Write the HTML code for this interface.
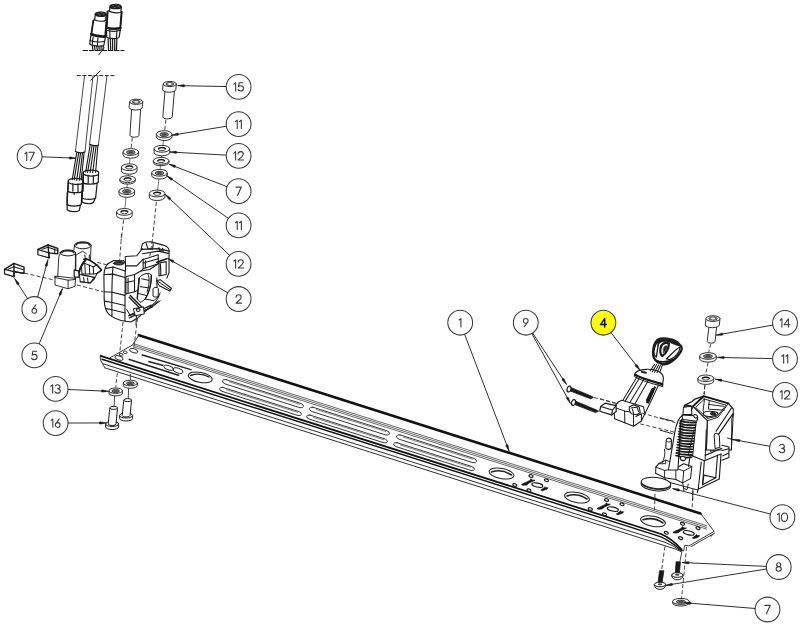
<!DOCTYPE html><html><head><meta charset="utf-8"><style>
html,body{margin:0;padding:0;background:#fff;}
svg{display:block;font-family:"Liberation Sans",sans-serif;}
</style></head><body>
<svg width="800" height="626" viewBox="0 0 800 626">
<circle cx="238.6" cy="86.8" r="12.4" fill="#fff" stroke="#3a3a3a" stroke-width="1.05"/>
<path transform="translate(233.55,82.60)" d="M0.3,1.5 L2.1,0.1 L2.1,8.4" fill="none" stroke="#3a3a3a" stroke-width="1.1" stroke-linecap="round" stroke-linejoin="round"/>
<path transform="translate(237.65,82.60)" d="M5.3,0.1 L1.5,0.1 L0.9,3.9 C1.5,3.4 2.3,3.2 3.0,3.2 C4.6,3.2 5.8,4.3 5.8,5.8 C5.8,7.4 4.6,8.4 3.0,8.4 C1.9,8.4 0.9,7.9 0.3,7.1" fill="none" stroke="#3a3a3a" stroke-width="1.1" stroke-linecap="round" stroke-linejoin="round"/>
<circle cx="238.6" cy="124.2" r="12.4" fill="#fff" stroke="#3a3a3a" stroke-width="1.05"/>
<path transform="translate(235.15,120.00)" d="M0.3,1.5 L2.1,0.1 L2.1,8.4" fill="none" stroke="#3a3a3a" stroke-width="1.1" stroke-linecap="round" stroke-linejoin="round"/>
<path transform="translate(239.25,120.00)" d="M0.3,1.5 L2.1,0.1 L2.1,8.4" fill="none" stroke="#3a3a3a" stroke-width="1.1" stroke-linecap="round" stroke-linejoin="round"/>
<circle cx="238.6" cy="155.8" r="12.4" fill="#fff" stroke="#3a3a3a" stroke-width="1.05"/>
<path transform="translate(233.55,151.60)" d="M0.3,1.5 L2.1,0.1 L2.1,8.4" fill="none" stroke="#3a3a3a" stroke-width="1.1" stroke-linecap="round" stroke-linejoin="round"/>
<path transform="translate(237.65,151.60)" d="M0.5,2.4 C0.5,0.9 1.7,0 3.1,0 C4.6,0 5.6,1.0 5.6,2.4 C5.6,3.5 4.9,4.3 4.0,5.2 L0.4,8.35 L5.9,8.35" fill="none" stroke="#3a3a3a" stroke-width="1.1" stroke-linecap="round" stroke-linejoin="round"/>
<circle cx="238.6" cy="191.2" r="12.4" fill="#fff" stroke="#3a3a3a" stroke-width="1.05"/>
<path transform="translate(235.70,187.00)" d="M0.2,0.1 L5.6,0.1 L1.8,8.4" fill="none" stroke="#3a3a3a" stroke-width="1.1" stroke-linecap="round" stroke-linejoin="round"/>
<circle cx="238.6" cy="225.4" r="12.4" fill="#fff" stroke="#3a3a3a" stroke-width="1.05"/>
<path transform="translate(235.15,221.20)" d="M0.3,1.5 L2.1,0.1 L2.1,8.4" fill="none" stroke="#3a3a3a" stroke-width="1.1" stroke-linecap="round" stroke-linejoin="round"/>
<path transform="translate(239.25,221.20)" d="M0.3,1.5 L2.1,0.1 L2.1,8.4" fill="none" stroke="#3a3a3a" stroke-width="1.1" stroke-linecap="round" stroke-linejoin="round"/>
<circle cx="238.6" cy="263.9" r="12.4" fill="#fff" stroke="#3a3a3a" stroke-width="1.05"/>
<path transform="translate(233.55,259.70)" d="M0.3,1.5 L2.1,0.1 L2.1,8.4" fill="none" stroke="#3a3a3a" stroke-width="1.1" stroke-linecap="round" stroke-linejoin="round"/>
<path transform="translate(237.65,259.70)" d="M0.5,2.4 C0.5,0.9 1.7,0 3.1,0 C4.6,0 5.6,1.0 5.6,2.4 C5.6,3.5 4.9,4.3 4.0,5.2 L0.4,8.35 L5.9,8.35" fill="none" stroke="#3a3a3a" stroke-width="1.1" stroke-linecap="round" stroke-linejoin="round"/>
<circle cx="238.6" cy="299" r="12.4" fill="#fff" stroke="#3a3a3a" stroke-width="1.05"/>
<path transform="translate(235.60,294.80)" d="M0.5,2.4 C0.5,0.9 1.7,0 3.1,0 C4.6,0 5.6,1.0 5.6,2.4 C5.6,3.5 4.9,4.3 4.0,5.2 L0.4,8.35 L5.9,8.35" fill="none" stroke="#3a3a3a" stroke-width="1.1" stroke-linecap="round" stroke-linejoin="round"/>
<circle cx="785" cy="322.9" r="12.4" fill="#fff" stroke="#3a3a3a" stroke-width="1.05"/>
<path transform="translate(779.85,318.70)" d="M0.3,1.5 L2.1,0.1 L2.1,8.4" fill="none" stroke="#3a3a3a" stroke-width="1.1" stroke-linecap="round" stroke-linejoin="round"/>
<path transform="translate(783.95,318.70)" d="M4.4,8.4 L4.4,0.1 L0.2,6.1 L6.1,6.1" fill="none" stroke="#3a3a3a" stroke-width="1.1" stroke-linecap="round" stroke-linejoin="round"/>
<circle cx="785" cy="358.9" r="12.4" fill="#fff" stroke="#3a3a3a" stroke-width="1.05"/>
<path transform="translate(781.55,354.70)" d="M0.3,1.5 L2.1,0.1 L2.1,8.4" fill="none" stroke="#3a3a3a" stroke-width="1.1" stroke-linecap="round" stroke-linejoin="round"/>
<path transform="translate(785.65,354.70)" d="M0.3,1.5 L2.1,0.1 L2.1,8.4" fill="none" stroke="#3a3a3a" stroke-width="1.1" stroke-linecap="round" stroke-linejoin="round"/>
<circle cx="785" cy="394.8" r="12.4" fill="#fff" stroke="#3a3a3a" stroke-width="1.05"/>
<path transform="translate(779.95,390.60)" d="M0.3,1.5 L2.1,0.1 L2.1,8.4" fill="none" stroke="#3a3a3a" stroke-width="1.1" stroke-linecap="round" stroke-linejoin="round"/>
<path transform="translate(784.05,390.60)" d="M0.5,2.4 C0.5,0.9 1.7,0 3.1,0 C4.6,0 5.6,1.0 5.6,2.4 C5.6,3.5 4.9,4.3 4.0,5.2 L0.4,8.35 L5.9,8.35" fill="none" stroke="#3a3a3a" stroke-width="1.1" stroke-linecap="round" stroke-linejoin="round"/>
<circle cx="782" cy="448.5" r="12.4" fill="#fff" stroke="#3a3a3a" stroke-width="1.05"/>
<path transform="translate(779.00,444.30)" d="M0.7,1.1 C1.2,0.4 2.1,0 3.0,0 C4.4,0 5.3,0.9 5.3,2.1 C5.3,3.3 4.3,4.1 2.8,4.1 C4.5,4.1 5.7,5.0 5.7,6.2 C5.7,7.6 4.6,8.4 3.0,8.4 C1.9,8.4 0.9,7.9 0.3,7.1" fill="none" stroke="#3a3a3a" stroke-width="1.1" stroke-linecap="round" stroke-linejoin="round"/>
<circle cx="782.4" cy="517.2" r="12.4" fill="#fff" stroke="#3a3a3a" stroke-width="1.05"/>
<path transform="translate(777.15,513.00)" d="M0.3,1.5 L2.1,0.1 L2.1,8.4" fill="none" stroke="#3a3a3a" stroke-width="1.1" stroke-linecap="round" stroke-linejoin="round"/>
<path transform="translate(781.25,513.00)" d="M3.2,0 C5.0,0 6.3,1.9 6.3,4.2 C6.3,6.5 5.0,8.4 3.2,8.4 C1.4,8.4 0.1,6.5 0.1,4.2 C0.1,1.9 1.4,0 3.2,0 Z" fill="none" stroke="#3a3a3a" stroke-width="1.1" stroke-linecap="round" stroke-linejoin="round"/>
<circle cx="778.7" cy="567" r="12.4" fill="#fff" stroke="#3a3a3a" stroke-width="1.05"/>
<path transform="translate(775.80,562.80)" d="M2.9,0 C4.1,0 5.0,0.9 5.0,2.0 C5.0,3.2 4.1,4.0 2.9,4.0 C1.7,4.0 0.8,3.2 0.8,2.0 C0.8,0.9 1.7,0 2.9,0 Z M2.9,4.0 C4.4,4.0 5.5,5.0 5.5,6.2 C5.5,7.5 4.4,8.4 2.9,8.4 C1.4,8.4 0.3,7.5 0.3,6.2 C0.3,5.0 1.4,4.0 2.9,4.0 Z" fill="none" stroke="#3a3a3a" stroke-width="1.1" stroke-linecap="round" stroke-linejoin="round"/>
<circle cx="767.5" cy="609.5" r="12.4" fill="#fff" stroke="#3a3a3a" stroke-width="1.05"/>
<path transform="translate(764.60,605.30)" d="M0.2,0.1 L5.6,0.1 L1.8,8.4" fill="none" stroke="#3a3a3a" stroke-width="1.1" stroke-linecap="round" stroke-linejoin="round"/>
<circle cx="29.6" cy="156.3" r="12.4" fill="#fff" stroke="#3a3a3a" stroke-width="1.05"/>
<path transform="translate(24.65,152.10)" d="M0.3,1.5 L2.1,0.1 L2.1,8.4" fill="none" stroke="#3a3a3a" stroke-width="1.1" stroke-linecap="round" stroke-linejoin="round"/>
<path transform="translate(28.75,152.10)" d="M0.2,0.1 L5.6,0.1 L1.8,8.4" fill="none" stroke="#3a3a3a" stroke-width="1.1" stroke-linecap="round" stroke-linejoin="round"/>
<circle cx="34.3" cy="309" r="12.4" fill="#fff" stroke="#3a3a3a" stroke-width="1.05"/>
<path transform="translate(31.50,304.80)" d="M4.3,0.1 L1.0,4.7 M0.5,6.1 C0.5,4.7 1.6,3.7 2.8,3.7 C4.1,3.7 5.2,4.7 5.2,6.0 C5.2,7.4 4.1,8.4 2.8,8.4 C1.6,8.4 0.5,7.4 0.5,6.1 Z" fill="none" stroke="#3a3a3a" stroke-width="1.1" stroke-linecap="round" stroke-linejoin="round"/>
<circle cx="34.3" cy="355.4" r="12.4" fill="#fff" stroke="#3a3a3a" stroke-width="1.05"/>
<path transform="translate(31.30,351.20)" d="M5.3,0.1 L1.5,0.1 L0.9,3.9 C1.5,3.4 2.3,3.2 3.0,3.2 C4.6,3.2 5.8,4.3 5.8,5.8 C5.8,7.4 4.6,8.4 3.0,8.4 C1.9,8.4 0.9,7.9 0.3,7.1" fill="none" stroke="#3a3a3a" stroke-width="1.1" stroke-linecap="round" stroke-linejoin="round"/>
<circle cx="55.6" cy="388.9" r="12.4" fill="#fff" stroke="#3a3a3a" stroke-width="1.05"/>
<path transform="translate(50.55,384.70)" d="M0.3,1.5 L2.1,0.1 L2.1,8.4" fill="none" stroke="#3a3a3a" stroke-width="1.1" stroke-linecap="round" stroke-linejoin="round"/>
<path transform="translate(54.65,384.70)" d="M0.7,1.1 C1.2,0.4 2.1,0 3.0,0 C4.4,0 5.3,0.9 5.3,2.1 C5.3,3.3 4.3,4.1 2.8,4.1 C4.5,4.1 5.7,5.0 5.7,6.2 C5.7,7.6 4.6,8.4 3.0,8.4 C1.9,8.4 0.9,7.9 0.3,7.1" fill="none" stroke="#3a3a3a" stroke-width="1.1" stroke-linecap="round" stroke-linejoin="round"/>
<circle cx="55.6" cy="423.1" r="12.4" fill="#fff" stroke="#3a3a3a" stroke-width="1.05"/>
<path transform="translate(50.75,418.90)" d="M0.3,1.5 L2.1,0.1 L2.1,8.4" fill="none" stroke="#3a3a3a" stroke-width="1.1" stroke-linecap="round" stroke-linejoin="round"/>
<path transform="translate(54.85,418.90)" d="M4.3,0.1 L1.0,4.7 M0.5,6.1 C0.5,4.7 1.6,3.7 2.8,3.7 C4.1,3.7 5.2,4.7 5.2,6.0 C5.2,7.4 4.1,8.4 2.8,8.4 C1.6,8.4 0.5,7.4 0.5,6.1 Z" fill="none" stroke="#3a3a3a" stroke-width="1.1" stroke-linecap="round" stroke-linejoin="round"/>
<circle cx="460.2" cy="322.7" r="12.4" fill="#fff" stroke="#3a3a3a" stroke-width="1.05"/>
<path transform="translate(458.80,318.50)" d="M0.3,1.5 L2.1,0.1 L2.1,8.4" fill="none" stroke="#3a3a3a" stroke-width="1.1" stroke-linecap="round" stroke-linejoin="round"/>
<circle cx="525.8" cy="322.7" r="12.4" fill="#fff" stroke="#3a3a3a" stroke-width="1.05"/>
<path transform="translate(523.00,318.50)" d="M1.3,8.3 L4.6,3.7 M5.1,2.3 C5.1,3.7 4.0,4.7 2.8,4.7 C1.5,4.7 0.4,3.7 0.4,2.4 C0.4,1.0 1.5,0 2.8,0 C4.0,0 5.1,1.0 5.1,2.3 Z" fill="none" stroke="#3a3a3a" stroke-width="1.1" stroke-linecap="round" stroke-linejoin="round"/>
<circle cx="603.4" cy="322.7" r="12.4" fill="#ffff00" stroke="#3a3a3a" stroke-width="1.05"/>
<path transform="translate(600.30,318.50)" d="M4.4,8.4 L4.4,0.1 L0.2,6.1 L6.1,6.1" fill="none" stroke="#111" stroke-width="1.5" stroke-linecap="round" stroke-linejoin="round"/>
<path d="M138.9,335.14 L700.4,513.53" fill="none" stroke="#111" stroke-width="2.6" stroke-linejoin="round" stroke-linecap="round" />
<path d="M138.9,335.1 L132.5,345 L110,357.8" fill="none" stroke="#222" stroke-width="0.9" stroke-linejoin="round" stroke-linecap="round" />
<path d="M700.4,513.2 L714.1,531.4 L690.7,544.9 L688.5,545.8 L684.8,545.2 L683.6,551 L681.3,549.6" fill="none" stroke="#222" stroke-width="0.9" stroke-linejoin="round" stroke-linecap="round" />
<path d="M714.6,533.2 L691,546.6" fill="none" stroke="#222" stroke-width="0.9" stroke-linejoin="round" stroke-linecap="round" />
<path d="M712.5,534.5 L711,536.5" fill="none" stroke="#222" stroke-width="0.9" stroke-linejoin="round" stroke-linecap="round" />
<line x1="133" y1="343.47" x2="707" y2="525.83" stroke="#444" stroke-width="0.8"/>
<line x1="133" y1="345.17" x2="707" y2="527.53" stroke="#444" stroke-width="0.8"/>
<line x1="133" y1="346.87" x2="707" y2="529.23" stroke="#444" stroke-width="0.8"/>
<path d="M100.6,355.97 L661,534.01 Q672,538.5 681.5,549.5" fill="none" stroke="#111" stroke-width="1.8" stroke-linejoin="round" stroke-linecap="round" />
<path d="M102,359.22 L661,536.81 Q671,541.5 681.2,550.2" fill="none" stroke="#111" stroke-width="1.4" stroke-linejoin="round" stroke-linecap="round" />
<path d="M103,363.74 L664,541.97 Q673,545 681,551" fill="none" stroke="#1a1a1a" stroke-width="0.9" stroke-linejoin="round" stroke-linecap="round" />
<path d="M104.4,367.68 L668,546.74 Q675,548.5 681,551.5" fill="none" stroke="#1a1a1a" stroke-width="0.9" stroke-linejoin="round" stroke-linecap="round" />
<path d="M100.6,355 Q99.5,358 101,361 L104.4,366.9" fill="none" stroke="#222" stroke-width="0.9" stroke-linejoin="round" stroke-linecap="round" />
<ellipse cx="200.25" cy="377.4" rx="12.2" ry="5.0" transform="rotate(11.00 200.25 377.4)" fill="none" stroke="#222" stroke-width="1.0"/>
<path d="M190.5,375.5 Q200,372.2 209,377" fill="none" stroke="#222" stroke-width="1.4" stroke-linejoin="round" stroke-linecap="round" />
<ellipse cx="501.5" cy="473.5" rx="12.6" ry="5.1" transform="rotate(11.00 501.5 473.5)" fill="none" stroke="#222" stroke-width="1.0"/>
<path d="M491.5,472.0 Q501.5,468.5 511.5,475.0" fill="none" stroke="#222" stroke-width="1.6" stroke-linejoin="round" stroke-linecap="round" />
<ellipse cx="531.0" cy="476.0" rx="2.1" ry="1.3" transform="rotate(17.63 531.0 476.0)" fill="none" stroke="#222" stroke-width="1.2"/>
<ellipse cx="546.5" cy="480.3" rx="2.1" ry="1.3" transform="rotate(17.63 546.5 480.3)" fill="none" stroke="#222" stroke-width="1.2"/>
<ellipse cx="514.8" cy="485.0" rx="2.1" ry="1.3" transform="rotate(17.63 514.8 485.0)" fill="none" stroke="#222" stroke-width="1.2"/>
<ellipse cx="529.0" cy="490.3" rx="2.1" ry="1.3" transform="rotate(17.63 529.0 490.3)" fill="none" stroke="#222" stroke-width="1.2"/>
<g transform="translate(535.5,484.7)"><path d="M-14,-0.3 L-5.5,-4.3 L-4.6,-6 L-3.6,-4.7 L-0.6,-4.4 L-3.4,-3.1 L-6,-2 L-9,0.3 L-13,0.6 Z" fill="#111" stroke="#111" stroke-width="0.7"/><ellipse cx="1.8" cy="0.4" rx="5.6" ry="2.0" transform="rotate(12 1.8 0.4)" fill="none" stroke="#111" stroke-width="1.1"/><path d="M5.3,5.4 L8.8,3 L9.5,2 L10.3,3 L12.6,3.1 L11.6,4.4 L7,6.1 Z" fill="#111" stroke="#111" stroke-width="0.7"/></g>
<ellipse cx="577" cy="497.5" rx="12.6" ry="5.1" transform="rotate(11.00 577 497.5)" fill="none" stroke="#222" stroke-width="1.0"/>
<path d="M567,496.0 Q577,492.5 587,499.0" fill="none" stroke="#222" stroke-width="1.6" stroke-linejoin="round" stroke-linecap="round" />
<ellipse cx="606.5" cy="500.0" rx="2.1" ry="1.3" transform="rotate(17.63 606.5 500.0)" fill="none" stroke="#222" stroke-width="1.2"/>
<ellipse cx="622" cy="504.3" rx="2.1" ry="1.3" transform="rotate(17.63 622 504.3)" fill="none" stroke="#222" stroke-width="1.2"/>
<ellipse cx="590.3" cy="509.0" rx="2.1" ry="1.3" transform="rotate(17.63 590.3 509.0)" fill="none" stroke="#222" stroke-width="1.2"/>
<ellipse cx="604.5" cy="514.3" rx="2.1" ry="1.3" transform="rotate(17.63 604.5 514.3)" fill="none" stroke="#222" stroke-width="1.2"/>
<g transform="translate(611,508.7)"><path d="M-14,-0.3 L-5.5,-4.3 L-4.6,-6 L-3.6,-4.7 L-0.6,-4.4 L-3.4,-3.1 L-6,-2 L-9,0.3 L-13,0.6 Z" fill="#111" stroke="#111" stroke-width="0.7"/><ellipse cx="1.8" cy="0.4" rx="5.6" ry="2.0" transform="rotate(12 1.8 0.4)" fill="none" stroke="#111" stroke-width="1.1"/><path d="M5.3,5.4 L8.8,3 L9.5,2 L10.3,3 L12.6,3.1 L11.6,4.4 L7,6.1 Z" fill="#111" stroke="#111" stroke-width="0.7"/></g>
<ellipse cx="653" cy="521.3" rx="12.6" ry="5.1" transform="rotate(11.00 653 521.3)" fill="none" stroke="#222" stroke-width="1.0"/>
<path d="M643,519.8 Q653,516.3 663,522.8" fill="none" stroke="#222" stroke-width="1.6" stroke-linejoin="round" stroke-linecap="round" />
<ellipse cx="682.5" cy="523.8" rx="2.1" ry="1.3" transform="rotate(17.63 682.5 523.8)" fill="none" stroke="#222" stroke-width="1.2"/>
<ellipse cx="698" cy="528.0999999999999" rx="2.1" ry="1.3" transform="rotate(17.63 698 528.0999999999999)" fill="none" stroke="#222" stroke-width="1.2"/>
<ellipse cx="666.3" cy="532.8" rx="2.1" ry="1.3" transform="rotate(17.63 666.3 532.8)" fill="none" stroke="#222" stroke-width="1.2"/>
<ellipse cx="680.5" cy="538.0999999999999" rx="2.1" ry="1.3" transform="rotate(17.63 680.5 538.0999999999999)" fill="none" stroke="#222" stroke-width="1.2"/>
<g transform="translate(687,532.5)"><path d="M-14,-0.3 L-5.5,-4.3 L-4.6,-6 L-3.6,-4.7 L-0.6,-4.4 L-3.4,-3.1 L-6,-2 L-9,0.3 L-13,0.6 Z" fill="#111" stroke="#111" stroke-width="0.7"/><ellipse cx="1.8" cy="0.4" rx="5.6" ry="2.0" transform="rotate(12 1.8 0.4)" fill="none" stroke="#111" stroke-width="1.1"/><path d="M5.3,5.4 L8.8,3 L9.5,2 L10.3,3 L12.6,3.1 L11.6,4.4 L7,6.1 Z" fill="#111" stroke="#111" stroke-width="0.7"/></g>
<ellipse cx="133.7" cy="350.7" rx="4.3" ry="2.0" transform="rotate(17.63 133.7 350.7)" fill="none" stroke="#222" stroke-width="0.9"/>
<ellipse cx="125.25" cy="352.4" rx="2.0" ry="1.2" transform="rotate(17.63 125.25 352.4)" fill="none" stroke="#222" stroke-width="0.8"/>
<ellipse cx="121.3" cy="354.7" rx="2.0" ry="1.2" transform="rotate(17.63 121.3 354.7)" fill="none" stroke="#222" stroke-width="0.8"/>
<ellipse cx="119" cy="358" rx="4.3" ry="2.0" transform="rotate(17.63 119 358)" fill="none" stroke="#222" stroke-width="0.9"/>
<line x1="141.6" y1="354.7" x2="191.6" y2="369.9" stroke="#222" stroke-width="1.5"/>
<line x1="128.6" y1="359.2" x2="179.2" y2="375.5" stroke="#222" stroke-width="1.5"/>
<line x1="148.3" y1="361.4" x2="163.5" y2="365.4" stroke="#222" stroke-width="1.5"/>
<ellipse cx="168.6" cy="367.8" rx="5" ry="2.1" transform="rotate(17.63 168.6 367.8)" fill="none" stroke="#222" stroke-width="0.9"/>
<ellipse cx="178" cy="370.6" rx="5.2" ry="2.4" transform="rotate(17.63 178 370.6)" fill="none" stroke="#222" stroke-width="0.9"/>
<path d="M226,379.61 L301,403.44 A4.499999999999999,2.299999999999999 17.6 0 1 300.0,407.72 L225.0,383.9 A4.499999999999999,2.299999999999999 17.6 0 1 226,379.61 Z" fill="none" stroke="#222" stroke-width="0.9" stroke-linejoin="round" stroke-linecap="round" />
<path d="M223,387.46 L299,411.61 A4.3,2.0999999999999996 17.6 0 1 298.0,415.49 L222.0,391.34 A4.3,2.0999999999999996 17.6 0 1 223,387.46 Z" fill="none" stroke="#222" stroke-width="0.9" stroke-linejoin="round" stroke-linecap="round" />
<line x1="229" y1="381.77" x2="300" y2="404.32" stroke="#555" stroke-width="0.7"/>
<line x1="226" y1="389.61" x2="298" y2="412.49" stroke="#555" stroke-width="0.7"/>
<path d="M313,407.25 L387,430.76 A4.499999999999999,2.299999999999999 17.6 0 1 386.0,435.05 L312.0,411.54 A4.499999999999999,2.299999999999999 17.6 0 1 313,407.25 Z" fill="none" stroke="#222" stroke-width="0.9" stroke-linejoin="round" stroke-linecap="round" />
<path d="M310,415.1 L385,438.93 A4.3,2.0999999999999996 17.6 0 1 384.0,442.81 L309.0,418.98 A4.3,2.0999999999999996 17.6 0 1 310,415.1 Z" fill="none" stroke="#222" stroke-width="0.9" stroke-linejoin="round" stroke-linecap="round" />
<line x1="316" y1="409.41" x2="386" y2="431.65" stroke="#555" stroke-width="0.7"/>
<line x1="313" y1="417.25" x2="384" y2="439.81" stroke="#555" stroke-width="0.7"/>
<path d="M400,434.89 L474,458.4 A4.499999999999999,2.299999999999999 17.6 0 1 473.0,462.69 L399.0,439.18 A4.499999999999999,2.299999999999999 17.6 0 1 400,434.89 Z" fill="none" stroke="#222" stroke-width="0.9" stroke-linejoin="round" stroke-linecap="round" />
<path d="M397,442.74 L472,466.57 A4.3,2.0999999999999996 17.6 0 1 471.0,470.45 L396.0,446.62 A4.3,2.0999999999999996 17.6 0 1 397,442.74 Z" fill="none" stroke="#222" stroke-width="0.9" stroke-linejoin="round" stroke-linecap="round" />
<line x1="403" y1="437.05" x2="473" y2="459.29" stroke="#555" stroke-width="0.7"/>
<line x1="400" y1="444.89" x2="471" y2="467.45" stroke="#555" stroke-width="0.7"/>
<g transform="translate(95,235) scale(0.14376)" fill="none" stroke="#1a1a1a" stroke-linejoin="round" stroke-linecap="round">
<path d="M90,200 C72,215 62,250 62,290 L64,450 C66,500 75,530 95,550 C130,580 170,595 215,600 L250,605 L300,575 L350,530 L440,460 L470,400 L445,345 L500,300 L515,260 L515,112 C515,92 505,80 480,72 L390,48 C370,45 345,48 330,62 L320,100 L290,145 L210,150 L212,180 L130,178 Z" stroke-width="0.07" fill="#fff"/>
<path d="M90,200 C72,215 62,250 62,290 L64,450 C66,500 75,530 95,550 C130,580 170,595 215,600" stroke-width="7.65" fill="none"/>
<path d="M90,200 L130,178 L200,180 L212,195" stroke-width="7.65" fill="none"/>
<path d="M128,197 C132,180 198,180 203,197 C200,212 132,214 128,197 Z" stroke-width="6.26" fill="#333"/>
<path d="M140,196 C150,188 185,188 192,196" stroke-width="6.26" fill="#aaa"/>
<path d="M75,232 L125,222 L210,250" stroke-width="7.65" fill="none"/>
<path d="M210,250 L208,600" stroke-width="7.65" fill="none"/>
<path d="M125,222 C118,300 116,420 118,560" stroke-width="7.65" fill="none"/>
<path d="M64,275 L125,272 L208,295" stroke-width="7.65" fill="none"/>
<path d="M64,395 L120,398 L208,420" stroke-width="7.65" fill="none"/>
<path d="M66,460 L120,470 L208,490" stroke-width="7.65" fill="none"/>
<path d="M80,512 L125,522 L210,542" stroke-width="7.65" fill="none"/>
<path d="M212,195 L212,250" stroke-width="7.65" fill="none"/>
<path d="M212,195 L210,150 L290,145 L330,95" stroke-width="6.96" fill="none"/>
<path d="M215,215 L290,215 L335,168" stroke-width="7.65" fill="none"/>
<path d="M215,290 L275,275 L275,395 L215,410 Z" stroke-width="7.65" fill="none"/>
<path d="M230,300 L230,400 M215,330 L275,318" stroke-width="7.65" fill="none"/>
<path d="M335,170 L440,138 L440,200 L335,235 Z" stroke-width="7.65" fill="none"/>
<path d="M350,180 L350,228 M335,195 L440,165" stroke-width="7.65" fill="none"/>
<path d="M320,250 L380,240 L440,200" stroke-width="7.65" fill="none"/>
<path d="M445,195 L495,185 L495,275 L445,285 Z" stroke-width="7.65" fill="none"/>
<path d="M455,200 L458,280" stroke-width="7.65" fill="none"/>
<path d="M275,275 L320,250 L335,235" stroke-width="7.65" fill="none"/>
<path d="M275,395 L300,385" stroke-width="7.65" fill="none"/>
<path d="M320,100 L330,62 C345,48 370,45 390,48 L480,72 C505,80 515,92 515,112 L515,260 L500,300" stroke-width="7.65" fill="none"/>
<path d="M355,55 L368,95 L400,98 L405,62" stroke-width="7.65" fill="none"/>
<path d="M445,88 L450,108 L475,112 L470,92" stroke-width="7.65" fill="none"/>
<path d="M325,100 L440,95 L515,112" stroke-width="7.65" fill="none"/>
<path d="M330,130 L440,112 L510,128" stroke-width="7.65" fill="none"/>
<path d="M430,190 L500,166" stroke-width="11.13" fill="none"/>
<path d="M215,600 L250,605 L300,575 L350,530 L440,460" stroke-width="7.65" fill="none"/>
<path d="M430,300 L432,420" stroke-width="7.65" fill="none"/>
<path d="M240,560 L300,540" stroke-width="7.65" fill="none"/>
</g>
<g transform="translate(125,270) scale(0.08787)" fill="none" stroke="#1a1a1a" stroke-linejoin="round" stroke-linecap="round">
<path d="M160,90 C200,40 280,20 300,60 C300,150 280,250 230,330 L180,370 L140,330 Z" stroke-width="11.38" fill="#fff"/>
<path d="M165,95 L140,330" stroke-width="12.52" fill="none"/>
<path d="M300,60 C300,150 280,250 230,330" stroke-width="14.79" fill="none"/>
<path d="M190,100 L272,118 M172,190 L262,202 M152,268 L242,290" stroke-width="11.38" fill="none"/>
<path d="M255,40 C280,60 285,150 250,250" stroke-width="11.38" fill="none"/>
<path d="M360,122 L400,110 L530,210 L510,240 L390,180 Z" stroke-width="12.52" fill="#fff"/>
<path d="M375,130 L515,225" stroke-width="11.38" fill="none"/>
<path d="M320,210 C325,192 378,195 380,210 L378,300 C360,312 330,310 322,300 Z" stroke-width="11.38" fill="#fff"/>
<path d="M400,260 C380,350 300,420 200,480" stroke-width="11.38" fill="none"/>
<path d="M60,290 L200,430 M48,310 L185,450" stroke-width="15.93" fill="none"/>
<path d="M40,520 L300,400 M50,545 L310,420" stroke-width="13.66" fill="none"/>
<path d="M100,440 L210,420 L220,500 L120,520 Z" stroke-width="11.38" fill="#fff"/>
<path d="M130,450 C135,435 170,435 172,455 C170,475 135,478 130,460 Z" stroke-width="12.52" fill="none"/>
<path d="M230,330 L330,350 L380,300" stroke-width="11.38" fill="none"/>
<path d="M20,450 L60,520" stroke-width="11.38" fill="none"/>
<path d="M310,420 L400,350" stroke-width="11.38" fill="none"/>
<path d="M130,520 L125,626" stroke-width="11.38" fill="none"/>
</g>
<g transform="translate(0,245) scale(0.07502)" fill="none" stroke="#1a1a1a" stroke-linejoin="round" stroke-linecap="round">
<path d="M60,325 L60,385 L185,422 L188,355 Z" stroke-width="16.00" fill="#fff"/>
<path d="M60,325 L185,245 L320,295 L320,378 L188,355" stroke-width="18.66" fill="none"/>
<path d="M185,245 L188,425" stroke-width="18.66" fill="none"/>
<path d="M110,322 L185,290 L310,330" stroke-width="13.33" fill="none"/>
<path d="M188,355 L320,378" stroke-width="16.00" fill="none"/>
<path d="M505,60 L505,130 L655,172 L652,105 Z" stroke-width="16.00" fill="#fff"/>
<path d="M505,60 L640,0 L770,45 L770,118 L652,105" stroke-width="18.66" fill="none"/>
<path d="M640,0 L655,172" stroke-width="18.66" fill="none"/>
<path d="M560,58 L640,30 L760,70" stroke-width="13.33" fill="none"/>
<path d="M730,50 L730,115" stroke-width="13.33" fill="none"/>
</g>
<g transform="translate(0,235) scale(0.12500)" fill="none" stroke="#1a1a1a" stroke-linejoin="round" stroke-linecap="round">
<path d="M481,143 A62,24 0 1 1 605,143 A62,24 0 1 1 481,143 Z" stroke-width="8.00" fill="none"/>
<path d="M495,140 A48,16 0 0 1 590,140" stroke-width="12.80" fill="none"/>
<path d="M481,150 L470,176 L462,331" stroke-width="7.20" fill="none"/>
<path d="M605,143 L600,346" stroke-width="7.20" fill="none"/>
<path d="M440,330 L462,331 L600,346 L605,346" stroke-width="7.20" fill="none"/>
<path d="M440,330 L440,400 L545,430 L600,410 L605,346" stroke-width="7.20" fill="none"/>
<path d="M545,360 L545,430" stroke-width="7.20" fill="none"/>
<path d="M440,340 L545,362 L605,355" stroke-width="7.20" fill="none"/>
<path d="M595,82 A67,28 0 1 1 729,82 A67,28 0 1 1 595,82 Z" stroke-width="8.00" fill="none"/>
<path d="M610,80 A52,18 0 0 1 715,80" stroke-width="12.80" fill="none"/>
<path d="M728,82 L724,200" stroke-width="7.20" fill="none"/>
<path d="M596,90 L590,120" stroke-width="7.20" fill="none"/>
<path d="M600,165 L660,130 L690,150" stroke-width="7.20" fill="none"/>
</g>
<g transform="translate(80,0) scale(0.08787)" fill="none" stroke="#1a1a1a" stroke-linejoin="round" stroke-linecap="round">
<path d="M320,440 L325,570 M345,440 L350,570 M370,440 L372,570 M395,435 L395,570 M420,430 L415,570" stroke-width="13.66" fill="none"/>
<path d="M300,320 L305,425 C340,445 420,445 445,425 L462,320 Z" stroke-width="13.66" fill="#fff"/>
<path d="M302,345 C340,360 420,362 458,345" stroke-width="12.52" fill="none"/>
<path d="M340,340 L340,440 M420,345 L415,440" stroke-width="12.52" fill="none"/>
<path d="M310,130 C350,110 440,115 478,135 L462,322 C420,338 340,334 300,318 Z" stroke-width="14.79" fill="#fff"/>
<path d="M300,312 C340,328 420,332 462,316" stroke-width="25.04" fill="none"/>
<path d="M316,140 L306,310 M470,145 L457,312" stroke-width="17.07" fill="none"/>
<path d="M340,85 L335,130 C380,150 440,150 465,140 L470,85 Z" stroke-width="13.66" fill="#fff"/>
<path d="M340,75 C345,40 465,40 470,80 C465,105 345,108 340,75 Z" stroke-width="14.79" fill="#2a2a2a"/>
<path d="M365,62 a10,6 0 1 0 20,0 a10,6 0 1 0 -20,0 M400,52 a10,6 0 1 0 20,0 a10,6 0 1 0 -20,0 M430,70 a10,6 0 1 0 20,0 a10,6 0 1 0 -20,0 M385,85 a10,6 0 1 0 20,0 a10,6 0 1 0 -20,0" stroke-width="5.69" fill="#ccc"/>
<path d="M140,520 L148,572 M165,525 L172,572 M190,528 L198,572 M215,530 L220,572 M240,528 L240,572 M265,520 L262,572" stroke-width="13.66" fill="none"/>
<path d="M125,400 L110,500 C140,525 240,530 270,520 L290,420 Z" stroke-width="13.66" fill="#fff"/>
<path d="M150,420 L138,510 M205,430 L198,525" stroke-width="12.52" fill="none"/>
<path d="M115,460 C150,480 240,485 278,470" stroke-width="12.52" fill="none"/>
<path d="M150,230 C180,210 290,215 305,240 L290,420 C240,430 160,410 125,398 Z" stroke-width="14.79" fill="#fff"/>
<path d="M128,385 C170,405 250,420 292,412" stroke-width="25.04" fill="none"/>
<path d="M152,240 L130,390 M298,250 L286,410" stroke-width="17.07" fill="none"/>
<path d="M175,170 L165,225 C200,245 270,248 292,230 L298,170 Z" stroke-width="13.66" fill="#fff"/>
<path d="M172,162 C178,130 295,130 300,165 C295,190 178,195 172,162 Z" stroke-width="14.79" fill="#2a2a2a"/>
<path d="M195,150 a9,6 0 1 0 18,0 a9,6 0 1 0 -18,0 M230,140 a9,6 0 1 0 18,0 a9,6 0 1 0 -18,0 M258,158 a9,6 0 1 0 18,0 a9,6 0 1 0 -18,0 M215,172 a9,6 0 1 0 18,0 a9,6 0 1 0 -18,0" stroke-width="5.69" fill="#ccc"/>
<path d="M210,400 L212,410" stroke-width="12.52" fill="none"/>
<path d="M35,575 L500,575" stroke-width="12.52" fill="none" stroke-dasharray="51.21 20.484"/>
<path d="M215,622 L275,545" stroke-width="11.38" fill="none"/>
</g>
<g transform="translate(68,255) scale(0.05587)" fill="none" stroke="#1a1a1a" stroke-linejoin="round" stroke-linecap="round">
<path d="M110,270 L190,285 L200,400 L112,392 Z" stroke-width="21.48" fill="#fff"/>
<path d="M200,300 C215,230 260,150 330,70 L400,100 L520,180 L600,270 L520,330 L470,430 L400,500 L220,480 L210,400 Z" stroke-width="17.90" fill="#fff"/>
<path d="M200,300 C215,230 260,150 330,70" stroke-width="35.80" fill="none"/>
<path d="M280,75 L330,70 L400,100 L520,180 L600,270 L520,330" stroke-width="25.06" fill="none"/>
<path d="M240,170 L300,150 L450,210 L460,340 L250,340 Z" stroke-width="17.90" fill="none"/>
<path d="M300,150 L310,330 M380,180 L390,340" stroke-width="17.90" fill="none"/>
<path d="M230,350 L470,400" stroke-width="25.06" fill="none"/>
<path d="M470,400 L400,500 L220,480" stroke-width="17.90" fill="none"/>
<path d="M280,400 L290,490 M350,410 L360,500" stroke-width="17.90" fill="none"/>
<path d="M450,210 L520,180 M460,340 L520,330" stroke-width="17.90" fill="none"/>
<path d="M300,0 L310,70 M380,0 L380,90" stroke-width="17.90" fill="none"/>
<path d="M140,0 L140,260" stroke-width="17.90" fill="none"/>
</g>
<line x1="76.8" y1="75.6" x2="115.4" y2="75.6" stroke="#222" stroke-width="1.0" stroke-dasharray="4 1.6"/>
<line x1="90.6" y1="80.4" x2="100.3" y2="70.6" stroke="#222" stroke-width="1.0"/>
<line x1="84.6" y1="75.6" x2="75.4" y2="151.6" stroke="#333" stroke-width="0.9"/>
<line x1="93" y1="75.6" x2="85" y2="151.6" stroke="#333" stroke-width="0.9"/>
<line x1="98" y1="75.6" x2="89.5" y2="144.5" stroke="#333" stroke-width="0.9"/>
<line x1="107" y1="75.6" x2="98.4" y2="145.2" stroke="#333" stroke-width="0.9"/>
<g transform="translate(55,135) scale(0.12771)" fill="none" stroke="#1a1a1a" stroke-linejoin="round" stroke-linecap="round">
<path d="M160,130 C180,142 220,142 236,132" stroke-width="9.40" fill="none"/>
<path d="M270,72 C290,84 325,86 340,80" stroke-width="9.40" fill="none"/>
<path d="M170,140 L135,350 M185,142 L150,352 M200,142 L170,355 M215,140 L190,355 M228,136 L205,352" stroke-width="8.61" fill="none"/>
<path d="M275,80 L240,290 M290,84 L255,292 M305,86 L275,295 M322,84 L295,295 M336,80 L318,292" stroke-width="8.61" fill="none"/>
<path d="M105,355 C120,335 205,335 222,355 L220,440 C200,455 120,455 100,440 Z" stroke-width="9.40" fill="none"/>
<path d="M105,360 L100,435" stroke-width="10.96" fill="none"/>
<path d="M110,375 C130,390 200,390 220,378" stroke-width="9.40" fill="none"/>
<path d="M140,380 L140,440 M180,385 L180,450" stroke-width="9.40" fill="none"/>
<path d="M100,440 L95,545 C115,560 185,560 205,545 L212,445" stroke-width="9.40" fill="none"/>
<path d="M96,450 L94,540" stroke-width="10.18" fill="none"/>
<path d="M95,545 L95,585 C115,605 175,605 190,590 L200,548" stroke-width="9.40" fill="none"/>
<path d="M150,455 L150,465" stroke-width="9.40" fill="none"/>
<path d="M222,290 C240,270 325,270 342,290 L338,372 C320,388 240,388 218,375 Z" stroke-width="9.40" fill="none"/>
<path d="M222,295 L220,370" stroke-width="10.96" fill="none"/>
<path d="M228,310 C250,325 320,325 340,312" stroke-width="9.40" fill="none"/>
<path d="M260,315 L260,375 M300,320 L300,382" stroke-width="9.40" fill="none"/>
<path d="M218,375 L212,492 C230,508 300,508 318,494 L330,380" stroke-width="9.40" fill="none"/>
<path d="M214,385 L212,488" stroke-width="10.18" fill="none"/>
<path d="M212,492 L212,525 C230,542 290,542 300,528 L315,495" stroke-width="9.40" fill="none"/>
</g>
<line x1="132.3" y1="137.6" x2="130.9" y2="150" stroke="#333" stroke-width="0.9" stroke-dasharray="4 2.2"/>
<line x1="130.9" y1="150" x2="124.5" y2="212" stroke="#555" stroke-width="0.8"/>
<line x1="124.3" y1="214" x2="121.2" y2="240" stroke="#333" stroke-width="0.9" stroke-dasharray="4 2.2"/>
<line x1="165.9" y1="119.7" x2="164.5" y2="132" stroke="#333" stroke-width="0.9" stroke-dasharray="4 2.2"/>
<line x1="164" y1="136" x2="157.2" y2="194" stroke="#555" stroke-width="0.8"/>
<line x1="157" y1="196" x2="152.4" y2="240" stroke="#333" stroke-width="0.9" stroke-dasharray="4 2.2"/>
<path d="M131.75,107.39999999999999 L129.9,135.4 A4.5,1.8 0 0 0 138.9,135.4 L140.75,107.39999999999999" fill="#fff" stroke="#1a1a1a" stroke-width="0.9"/>
<path d="M129.65,101.8 L129.034,107.39999999999999 A6.6,2.6 0 0 0 142.23399999999998,107.39999999999999 L142.85,101.8" fill="#fff" stroke="#1a1a1a" stroke-width="0.9"/>
<ellipse cx="136.25" cy="101.8" rx="6.6" ry="2.6" fill="#fff" stroke="#1a1a1a" stroke-width="0.9"/>
<ellipse cx="136.25" cy="101.8" rx="3.96" ry="1.56" fill="#888" stroke="#1a1a1a" stroke-width="0.7"/>
<ellipse cx="136.25" cy="101.8" rx="1.98" ry="0.91" fill="#eee" stroke="none"/>
<path d="M165.10000000000002,89.6 L162.8,117 A4.7,1.8800000000000001 0 0 0 172.2,117 L174.5,89.6" fill="#fff" stroke="#1a1a1a" stroke-width="0.9"/>
<path d="M163.20000000000002,84 L162.584,89.6 A6.6,2.6 0 0 0 175.784,89.6 L176.4,84" fill="#fff" stroke="#1a1a1a" stroke-width="0.9"/>
<ellipse cx="169.8" cy="84" rx="6.6" ry="2.6" fill="#fff" stroke="#1a1a1a" stroke-width="0.9"/>
<ellipse cx="169.8" cy="84" rx="3.96" ry="1.56" fill="#888" stroke="#1a1a1a" stroke-width="0.7"/>
<ellipse cx="169.8" cy="84" rx="1.98" ry="0.91" fill="#eee" stroke="none"/>
<path d="M123.00000000000001,152 L123.00000000000001,154.8 A7.8,3.4 0 0 0 138.60000000000002,154.8 L138.60000000000002,152" fill="#fff" stroke="#1a1a1a" stroke-width="0.9"/>
<ellipse cx="130.8" cy="152" rx="7.8" ry="3.4" fill="#fff" stroke="#1a1a1a" stroke-width="0.9"/>
<ellipse cx="130.8" cy="152.3" rx="4.29" ry="1.87" fill="#8a8a8a" stroke="#1a1a1a" stroke-width="0.8"/>
<ellipse cx="130.8" cy="152.3" rx="2.34" ry="1.02" fill="#444" stroke="none"/>
<path d="M121.39999999999999,167.2 L121.39999999999999,170.79999999999998 A7.8,3.4 0 0 0 137.0,170.79999999999998 L137.0,167.2" fill="#fff" stroke="#1a1a1a" stroke-width="0.9"/>
<ellipse cx="129.2" cy="167.2" rx="7.8" ry="3.4" fill="#fff" stroke="#1a1a1a" stroke-width="0.9"/>
<ellipse cx="129.2" cy="167.5" rx="3.51" ry="1.53" fill="#fff" stroke="#1a1a1a" stroke-width="0.8"/>
<path d="M125.69,167.5 A3.51,1.53 0 0 1 132.71,167.5" fill="none" stroke="#111" stroke-width="1.3"/>
<path d="M119.8,179.2 L119.8,180.7 A7.8,3.4 0 0 0 135.4,180.7 L135.4,179.2" fill="#fff" stroke="#1a1a1a" stroke-width="0.9"/>
<ellipse cx="127.6" cy="179.2" rx="7.8" ry="3.4" fill="#fff" stroke="#1a1a1a" stroke-width="0.9"/>
<ellipse cx="127.6" cy="179.5" rx="3.51" ry="1.53" fill="#fff" stroke="#1a1a1a" stroke-width="0.8"/>
<path d="M124.09,179.5 A3.51,1.53 0 0 1 131.11,179.5" fill="none" stroke="#111" stroke-width="1.3"/>
<path d="M119.0,191.1 L119.0,193.9 A7.8,3.4 0 0 0 134.6,193.9 L134.6,191.1" fill="#fff" stroke="#1a1a1a" stroke-width="0.9"/>
<ellipse cx="126.8" cy="191.1" rx="7.8" ry="3.4" fill="#fff" stroke="#1a1a1a" stroke-width="0.9"/>
<ellipse cx="126.8" cy="191.4" rx="4.29" ry="1.87" fill="#8a8a8a" stroke="#1a1a1a" stroke-width="0.8"/>
<ellipse cx="126.8" cy="191.4" rx="2.34" ry="1.02" fill="#444" stroke="none"/>
<path d="M116.60000000000001,211.9 L116.60000000000001,215.5 A7.8,3.4 0 0 0 132.20000000000002,215.5 L132.20000000000002,211.9" fill="#fff" stroke="#1a1a1a" stroke-width="0.9"/>
<ellipse cx="124.4" cy="211.9" rx="7.8" ry="3.4" fill="#fff" stroke="#1a1a1a" stroke-width="0.9"/>
<ellipse cx="124.4" cy="212.20000000000002" rx="3.51" ry="1.53" fill="#fff" stroke="#1a1a1a" stroke-width="0.8"/>
<path d="M120.89,212.20000000000002 A3.51,1.53 0 0 1 127.91,212.20000000000002" fill="none" stroke="#111" stroke-width="1.3"/>
<path d="M156.39999999999998,134.3 L156.39999999999998,136.9 A7.8,3.6 0 0 0 172.0,136.9 L172.0,134.3" fill="#fff" stroke="#1a1a1a" stroke-width="0.9"/>
<ellipse cx="164.2" cy="134.3" rx="7.8" ry="3.6" fill="#fff" stroke="#1a1a1a" stroke-width="0.9"/>
<ellipse cx="164.2" cy="134.60000000000002" rx="4.29" ry="1.98" fill="#8a8a8a" stroke="#1a1a1a" stroke-width="0.8"/>
<ellipse cx="164.2" cy="134.60000000000002" rx="2.34" ry="1.08" fill="#444" stroke="none"/>
<path d="M154.1,148.8 L154.1,152.4 A7.8,3.4 0 0 0 169.70000000000002,152.4 L169.70000000000002,148.8" fill="#fff" stroke="#1a1a1a" stroke-width="0.9"/>
<ellipse cx="161.9" cy="148.8" rx="7.8" ry="3.4" fill="#fff" stroke="#1a1a1a" stroke-width="0.9"/>
<ellipse cx="161.9" cy="149.10000000000002" rx="3.51" ry="1.53" fill="#fff" stroke="#1a1a1a" stroke-width="0.8"/>
<path d="M158.39,149.10000000000002 A3.51,1.53 0 0 1 165.41,149.10000000000002" fill="none" stroke="#111" stroke-width="1.3"/>
<path d="M153.29999999999998,160.8 L153.29999999999998,162.3 A7.8,3.4 0 0 0 168.9,162.3 L168.9,160.8" fill="#fff" stroke="#1a1a1a" stroke-width="0.9"/>
<ellipse cx="161.1" cy="160.8" rx="7.8" ry="3.4" fill="#fff" stroke="#1a1a1a" stroke-width="0.9"/>
<ellipse cx="161.1" cy="161.10000000000002" rx="3.51" ry="1.53" fill="#fff" stroke="#1a1a1a" stroke-width="0.8"/>
<path d="M157.59,161.10000000000002 A3.51,1.53 0 0 1 164.61,161.10000000000002" fill="none" stroke="#111" stroke-width="1.3"/>
<path d="M151.7,172.8 L151.7,175.60000000000002 A7.8,3.4 0 0 0 167.3,175.60000000000002 L167.3,172.8" fill="#fff" stroke="#1a1a1a" stroke-width="0.9"/>
<ellipse cx="159.5" cy="172.8" rx="7.8" ry="3.4" fill="#fff" stroke="#1a1a1a" stroke-width="0.9"/>
<ellipse cx="159.5" cy="173.10000000000002" rx="4.29" ry="1.87" fill="#8a8a8a" stroke="#1a1a1a" stroke-width="0.8"/>
<ellipse cx="159.5" cy="173.10000000000002" rx="2.34" ry="1.02" fill="#444" stroke="none"/>
<path d="M149.29999999999998,193.5 L149.29999999999998,197.1 A7.8,3.4 0 0 0 164.9,197.1 L164.9,193.5" fill="#fff" stroke="#1a1a1a" stroke-width="0.9"/>
<ellipse cx="157.1" cy="193.5" rx="7.8" ry="3.4" fill="#fff" stroke="#1a1a1a" stroke-width="0.9"/>
<ellipse cx="157.1" cy="193.8" rx="3.51" ry="1.53" fill="#fff" stroke="#1a1a1a" stroke-width="0.8"/>
<path d="M153.59,193.8 A3.51,1.53 0 0 1 160.61,193.8" fill="none" stroke="#111" stroke-width="1.3"/>
<g transform="translate(600,360) scale(0.11186)" fill="none" stroke="#1a1a1a" stroke-linejoin="round" stroke-linecap="round">
<path d="M330,151 L190,385 L400,485 L525,221 Z" stroke-width="0.09" fill="#fff"/>
<path d="M330,151 L190,385" stroke-width="8.94" fill="none"/>
<path d="M525,221 L400,485" stroke-width="8.94" fill="none"/>
<path d="M352,164 L222,372 M392,174 L268,378 M432,184 L312,392" stroke-width="8.94" fill="none"/>
<path d="M490,245 L430,380 M470,260 L420,360" stroke-width="19.67" fill="none"/>
<path d="M445,330 L415,380" stroke-width="10.73" fill="none"/>
<path d="M310,126 C330,76 480,66 545,116 C570,136 570,176 560,211 C500,196 360,156 310,126 Z" stroke-width="9.83" fill="#fff"/>
<path d="M310,126 L312,151 C360,181 500,221 560,236 L560,211" stroke-width="9.83" fill="none"/>
<path d="M312,131 C360,164 500,201 558,218" stroke-width="16.09" fill="none"/>
<path d="M375,106 L410,114" stroke-width="17.88" fill="none"/>
<path d="M160,378 L195,360 L300,392 L390,418 L400,480 L370,545 L300,592 L130,525 L125,425 Z" stroke-width="8.94" fill="#fff"/>
<path d="M125,425 L160,378" stroke-width="8.94" fill="none"/>
<path d="M125,425 L220,455 L300,470 L320,480" stroke-width="8.94" fill="none"/>
<path d="M220,455 L222,560" stroke-width="8.94" fill="none"/>
<path d="M300,470 L300,592" stroke-width="8.94" fill="none"/>
<path d="M262,420 L300,400 L350,420 L360,470 L330,490 L280,480 L262,450 Z" stroke-width="9.83" fill="#fff"/>
<path d="M280,430 L330,420 L345,460 M290,440 L300,480" stroke-width="8.94" fill="none"/>
<path d="M320,505 L370,480 L370,545" stroke-width="8.94" fill="none"/>
<path d="M6,416 L46,386 L143,408 L145,460 L104,491 L-2,458 Z" stroke-width="10.73" fill="#fff"/>
<path d="M6,416 L112,447 L143,408 M112,447 L104,491" stroke-width="10.73" fill="none"/>
</g>
<g transform="translate(645,325) scale(0.07994)" fill="none" stroke="#1a1a1a" stroke-linejoin="round" stroke-linecap="round">
<path d="M120,490 L65,575 M145,495 L92,585 M170,500 L120,592 M195,500 L150,598 M220,495 L185,592" stroke-width="12.51" fill="none"/>
<path d="M165,180 C200,160 330,160 400,210 L455,270 C470,300 440,360 380,420 C330,470 270,500 220,490 L130,440 C95,400 95,330 110,270 C120,230 140,195 165,180 Z" stroke-width="27.52" fill="#fff"/>
<path d="M165,188 C230,172 330,178 400,218 L440,265 C400,258 360,240 330,228 C290,210 240,205 200,215 C185,222 170,240 160,262 Z" stroke-width="6.25" fill="#1a1a1a"/>
<path d="M112,330 C120,265 145,215 172,198 C162,270 150,350 142,398 C118,390 110,360 112,330 Z" stroke-width="16.26" fill="none"/>
<path d="M270,425 C330,365 390,295 440,272 C432,340 385,400 312,432 Z" stroke-width="16.26" fill="none"/>
<path d="M195,290 C205,235 250,210 300,232 C295,300 255,360 215,390 C192,370 188,330 195,290 Z" stroke-width="27.52" fill="#fff"/>
<path d="M230,300 C238,270 258,255 275,262 C270,300 250,330 232,345 Z" stroke-width="7.51" fill="#222"/>
<path d="M130,440 C200,470 300,460 380,420" stroke-width="17.51" fill="none"/>
<path d="M150,470 C220,492 300,482 400,402" stroke-width="17.51" fill="none"/>
</g>
<g transform="translate(650,430) scale(0.11249)" fill="none" stroke="#1a1a1a" stroke-linejoin="round" stroke-linecap="round">
<path d="M75,300 L140,268 L225,300 L230,340 L300,300 L372,325 L360,432 L290,470 L230,440 L130,425 L50,385 L52,330 Z" stroke-width="8.89" fill="#fff"/>
<path d="M52,330 L130,360 L230,340" stroke-width="8.45" fill="none"/>
<path d="M130,360 L130,425" stroke-width="8.45" fill="none"/>
<path d="M230,340 L300,365 L372,325" stroke-width="8.45" fill="none"/>
<path d="M300,365 L290,470" stroke-width="8.45" fill="none"/>
<path d="M230,340 L230,440" stroke-width="8.45" fill="none"/>
<path d="M140,268 L140,300 L75,300" stroke-width="8.45" fill="none"/>
<path d="M290,470 L300,520 L330,530 L340,480 M300,520 L300,540 M380,530 L380,622" stroke-width="8.45" fill="none"/>
<path d="M130,425 L150,460 L300,500 L420,532" stroke-width="8.45" fill="none"/>
<path d="M340,230 L390,0" stroke-width="8.45" fill="none"/>
<path d="M500,0 L490,262" stroke-width="8.45" fill="none"/>
<path d="M540,90 L560,40 L600,50 L620,160 L540,190 Z" stroke-width="8.89" fill="#fff"/>
<path d="M600,60 L690,0 M620,120 L700,40" stroke-width="8.45" fill="none"/>
<path d="M720,80 L740,85" stroke-width="8.45" fill="none"/>
</g>
<g transform="translate(670,390) scale(0.09588)" fill="none" stroke="#1a1a1a" stroke-linejoin="round" stroke-linecap="round">
<path d="M240,170 L350,65 L610,140 L660,200 L660,250 L640,626 L380,626 L390,320 Z" stroke-width="10.43" fill="#fff"/>
<path d="M240,170 L350,65 L610,140" stroke-width="18.77" fill="none"/>
<path d="M240,170 L390,320 L500,285 L610,140" stroke-width="9.91" fill="none"/>
<path d="M270,178 L360,95 L585,158 L495,272 L395,295 Z" stroke-width="9.91" fill="none"/>
<path d="M360,95 L345,215 L395,295" stroke-width="9.91" fill="none"/>
<path d="M410,110 L400,200 L570,210" stroke-width="9.91" fill="none"/>
<path d="M400,150 L560,170" stroke-width="9.91" fill="none"/>
<path d="M350,240 C360,215 470,215 500,240 C500,275 380,290 350,260 Z" stroke-width="11.47" fill="#fff"/>
<path d="M420,245 C430,230 470,232 475,250 C470,265 430,265 420,245 Z" stroke-width="10.43" fill="#333"/>
<path d="M390,320 L380,626" stroke-width="9.91" fill="none"/>
<path d="M610,140 L660,200" stroke-width="9.91" fill="none"/>
<path d="M660,250 L645,300 L640,626" stroke-width="9.91" fill="none"/>
<path d="M480,430 L640,190 M500,470 L655,250" stroke-width="12.52" fill="none"/>
<path d="M460,470 C470,440 510,450 515,480 L520,600 L470,610 Z" stroke-width="10.43" fill="#fff"/>
<path d="M600,500 L660,520" stroke-width="9.91" fill="none"/>
<path d="M150,160 L230,120 L260,95 L350,65" stroke-width="13.56" fill="none"/>
<path d="M150,165 L140,230 L215,260 L285,280 L290,310 L240,320 L135,290 Z" stroke-width="10.43" fill="#fff"/>
<path d="M150,160 L155,195 L240,170" stroke-width="9.91" fill="none"/>
<path d="M140,230 L230,205 L240,170" stroke-width="9.91" fill="none"/>
<path d="M165,190 C170,175 200,172 210,185 C205,200 175,205 165,190 Z" stroke-width="11.47" fill="none"/>
<path d="M245,285 C250,270 280,268 290,285 C285,300 255,305 245,285 Z" stroke-width="10.43" fill="#fff"/>
</g>
<g transform="translate(685,440) scale(0.08787)" fill="none" stroke="#1a1a1a" stroke-linejoin="round" stroke-linecap="round">
<path d="M60,170 L220,235 L410,160 L420,60 L500,80 L500,200 L420,230 L390,445 L150,560 L140,540 L185,250 Z" stroke-width="0.11" fill="#fff"/>
<path d="M60,170 L220,235 L410,160" stroke-width="12.52" fill="none"/>
<path d="M230,175 L420,95" stroke-width="12.52" fill="none"/>
<path d="M185,250 L150,560 L390,445 L410,160" stroke-width="12.52" fill="none"/>
<path d="M220,235 L200,510 L350,430 L370,170" stroke-width="12.52" fill="none"/>
<path d="M215,400 L350,430" stroke-width="12.52" fill="none"/>
<path d="M200,510 L215,400" stroke-width="12.52" fill="none"/>
<path d="M420,60 L500,80 L500,200 L420,230" stroke-width="12.52" fill="none"/>
<path d="M430,180 L495,150 M420,120 L500,100" stroke-width="12.52" fill="none"/>
<path d="M150,560 L140,600" stroke-width="12.52" fill="none"/>
<path d="M60,170 L40,300" stroke-width="12.52" fill="none"/>
</g>
<g transform="translate(660,400) scale(0.11186)" fill="none" stroke="#1a1a1a" stroke-linejoin="round" stroke-linecap="round">
<path d="M200,140 C170,150 150,190 130,300 L75,626 L160,626 L185,220 C190,180 200,160 210,150 Z" stroke-width="9.83" fill="#fff"/>
<path d="M210,150 L180,200" stroke-width="8.49" fill="none"/>
<path d="M182,185 Q250,210 322,200 M179,209 Q247,234 319,224 M176,233 Q244,258 316,248 M173,257 Q241,282 313,272 M170,281 Q238,306 310,296 M167,305 Q235,330 307,320 M164,329 Q232,354 304,344 M161,353 Q229,378 301,368 M158,377 Q226,402 298,392 M155,401 Q223,426 295,416 M152,425 Q220,450 292,440 M149,449 Q217,474 289,464 M146,473 Q214,498 286,488 M143,497 Q211,522 283,512" stroke-width="14.30" fill="none"/>
<path d="M182,185 Q250,160 322,176 M179,209 Q247,184 319,200 M176,233 Q244,208 316,224 M173,257 Q241,232 313,248 M170,281 Q238,256 310,272 M167,305 Q235,280 307,296 M164,329 Q232,304 304,320 M161,353 Q229,328 301,344 M158,377 Q226,352 298,368 M155,401 Q223,376 295,392 M152,425 Q220,400 292,416 M149,449 Q217,424 289,440 M146,473 Q214,448 286,464 M143,497 Q211,472 283,488" stroke-width="6.26" fill="none"/>
<path d="M182,185 L172,510 M322,200 L292,500" stroke-width="8.94" fill="none"/>
<path d="M195,135 L205,175 L330,190 L335,150 L300,140 Z" stroke-width="8.94" fill="#fff"/>
<path d="M300,140 C305,125 335,128 335,150 C332,165 305,165 300,140 Z" stroke-width="8.94" fill="#fff"/>
<path d="M210,65 L280,55 L285,130 L205,130 Z" stroke-width="8.94" fill="#fff"/>
<path d="M220,60 C230,45 270,45 280,58" stroke-width="12.52" fill="none"/>
<path d="M180,520 C185,500 225,500 230,525 C228,548 188,550 180,520 Z" stroke-width="9.83" fill="#fff"/>
<path d="M55,360 C60,335 100,335 102,360 L100,430 C90,445 60,445 52,430 Z" stroke-width="9.83" fill="#fff"/>
<path d="M60,370 C70,380 95,378 100,365" stroke-width="8.49" fill="none"/>
<path d="M40,440 C50,480 40,520 20,560" stroke-width="8.49" fill="none"/>
<path d="M0,160 L120,190 M0,270 L110,300" stroke-width="8.49" fill="none"/>
</g>
<g transform="rotate(6 656 483)">
<path d="M641.3,483 L641.3,485.6 A14.75,5.6 0 0 0 670.7,485.6 L670.7,483" fill="#fff" stroke="#1a1a1a" stroke-width="1.0"/>
<path d="M641.6,484.5 A14.75,5.6 0 0 0 670.4,484.5" fill="none" stroke="#333" stroke-width="1.6"/>
<ellipse cx="656" cy="483" rx="14.75" ry="5.5" fill="#fff" stroke="#1a1a1a" stroke-width="1.0"/>
</g>
<line x1="710.8" y1="343.8" x2="708.7" y2="352.4" stroke="#333" stroke-width="0.9" stroke-dasharray="4 2.2"/>
<line x1="708" y1="362.5" x2="705.8" y2="374" stroke="#333" stroke-width="0.9" stroke-dasharray="4 2.2"/>
<line x1="705" y1="385.5" x2="703.9" y2="394" stroke="#333" stroke-width="0.9" stroke-dasharray="4 2.2"/>
<path d="M709.1,324.90000000000003 L707.2,341.6 A3.9,1.56 0 0 0 715.0,341.6 L716.9,324.90000000000003" fill="#fff" stroke="#1a1a1a" stroke-width="0.9"/>
<path d="M706.0,318.6 L705.307,324.90000000000003 A7.0,2.8 0 0 0 719.307,324.90000000000003 L720.0,318.6" fill="#fff" stroke="#1a1a1a" stroke-width="0.9"/>
<ellipse cx="713" cy="318.6" rx="7.0" ry="2.8" fill="#fff" stroke="#1a1a1a" stroke-width="0.9"/>
<ellipse cx="713" cy="318.6" rx="4.20" ry="1.68" fill="#888" stroke="#1a1a1a" stroke-width="0.7"/>
<ellipse cx="713" cy="318.6" rx="2.10" ry="0.98" fill="#eee" stroke="none"/>
<path d="M699.7,356 L699.7,358.8 A8.3,3.3 0 0 0 716.3,358.8 L716.3,356" fill="#fff" stroke="#1a1a1a" stroke-width="0.9"/>
<ellipse cx="708" cy="356" rx="8.3" ry="3.3" fill="#fff" stroke="#1a1a1a" stroke-width="0.9"/>
<ellipse cx="708" cy="356.3" rx="4.57" ry="1.81" fill="#8a8a8a" stroke="#1a1a1a" stroke-width="0.8"/>
<ellipse cx="708" cy="356.3" rx="2.49" ry="0.99" fill="#444" stroke="none"/>
<path d="M697.9,378.3 L697.9,381.1 A7.9,3.3 0 0 0 713.6999999999999,381.1 L713.6999999999999,378.3" fill="#fff" stroke="#1a1a1a" stroke-width="0.9"/>
<ellipse cx="705.8" cy="378.3" rx="7.9" ry="3.3" fill="#fff" stroke="#1a1a1a" stroke-width="0.9"/>
<ellipse cx="705.8" cy="378.6" rx="3.56" ry="1.48" fill="#fff" stroke="#1a1a1a" stroke-width="0.8"/>
<path d="M702.25,378.6 A3.56,1.48 0 0 1 709.35,378.6" fill="none" stroke="#111" stroke-width="1.3"/>
<path d="M570.5,387.4 L591,396.0 L593.5,397.3 L590.6,398.8 L570.2,391.0 Z" fill="#1a1a1a" stroke="#1a1a1a" stroke-width="0.8"/>
<ellipse cx="569" cy="389" rx="1.9" ry="3.0" transform="rotate(17 569 389)" fill="#fff" stroke="#1a1a1a" stroke-width="1.2"/>
<path d="M575.0,400.9 L596,409.8 L598.5,411.1 L595.6,412.6 L574.7,404.5 Z" fill="#1a1a1a" stroke="#1a1a1a" stroke-width="0.8"/>
<ellipse cx="573.5" cy="402.5" rx="1.9" ry="3.0" transform="rotate(17 573.5 402.5)" fill="#fff" stroke="#1a1a1a" stroke-width="1.2"/>
<line x1="594" y1="397.5" x2="616" y2="403.5" stroke="#333" stroke-width="0.9" stroke-dasharray="4 2.2"/>
<line x1="600" y1="398.7" x2="618.4" y2="403.8" stroke="#333" stroke-width="0.9" stroke-dasharray="4 2.2"/>
<line x1="641.9" y1="413" x2="675.8" y2="422.8" stroke="#333" stroke-width="0.9" stroke-dasharray="4 2.2"/>
<line x1="640.2" y1="423.9" x2="675.8" y2="432.5" stroke="#333" stroke-width="0.9" stroke-dasharray="4 2.2"/>
<line x1="664.9" y1="546.5" x2="661.7" y2="569.5" stroke="#333" stroke-width="0.9" stroke-dasharray="4 2.2"/>
<line x1="686.6" y1="547.1" x2="681.5" y2="598.9" stroke="#333" stroke-width="0.9" stroke-dasharray="4 2.2"/>
<line x1="682" y1="551" x2="680" y2="561" stroke="#333" stroke-width="0.9"/>
<path d="M676.0999999999999,561.8 L675.3,573.5 L679.3,573.5 L680.5,561.8 Z" fill="#1a1a1a" stroke="#1a1a1a" stroke-width="0.8"/>
<path d="M671.5999999999999,575.0 C671.5999999999999,581.5 683.0,581.5 683.0,575.0" fill="#fff" stroke="#1a1a1a" stroke-width="1.0"/>
<ellipse cx="677.3" cy="575.0" rx="5.7" ry="2.3" fill="#fff" stroke="#1a1a1a" stroke-width="1.0"/>
<ellipse cx="677.3" cy="574.7" rx="2.2" ry="1.0" fill="#444" stroke="none"/>
<path d="M659.5,570.8 L658.0,583 L662.0,583 L663.9000000000001,570.8 Z" fill="#1a1a1a" stroke="#1a1a1a" stroke-width="0.8"/>
<path d="M654.3,584.5 C654.3,591 665.7,591 665.7,584.5" fill="#fff" stroke="#1a1a1a" stroke-width="1.0"/>
<ellipse cx="660" cy="584.5" rx="5.7" ry="2.3" fill="#fff" stroke="#1a1a1a" stroke-width="1.0"/>
<ellipse cx="660" cy="584.2" rx="2.2" ry="1.0" fill="#444" stroke="none"/>
<path d="M672.6,601.4 L672.6,603.0 A8.3,3.0 0 0 0 689.1999999999999,603.0 L689.1999999999999,601.4" fill="#fff" stroke="#1a1a1a" stroke-width="0.9"/>
<ellipse cx="680.9" cy="601.4" rx="8.3" ry="3.0" fill="#fff" stroke="#1a1a1a" stroke-width="0.9"/>
<ellipse cx="680.9" cy="601.6999999999999" rx="4.57" ry="1.65" fill="#8a8a8a" stroke="#1a1a1a" stroke-width="0.8"/>
<ellipse cx="680.9" cy="601.6999999999999" rx="2.49" ry="0.90" fill="#444" stroke="none"/>
<line x1="655" y1="494" x2="654.5" y2="510" stroke="#333" stroke-width="0.9" stroke-dasharray="4 2.2"/>
<line x1="693" y1="491" x2="692" y2="510" stroke="#333" stroke-width="0.9" stroke-dasharray="4 2.2"/>
<line x1="704.75" y1="385" x2="703.9" y2="400" stroke="#333" stroke-width="0.9" stroke-dasharray="4 2.2"/>
<line x1="117.3" y1="373" x2="115.7" y2="387.5" stroke="#333" stroke-width="0.9" stroke-dasharray="4 2.2"/>
<line x1="130.3" y1="374" x2="130.3" y2="380" stroke="#333" stroke-width="0.9"/>
<line x1="114.7" y1="394" x2="114.2" y2="406.3" stroke="#333" stroke-width="0.9"/>
<line x1="128.7" y1="386" x2="128.2" y2="399.6" stroke="#333" stroke-width="0.9"/>
<path d="M123.30000000000001,383 L123.30000000000001,385.5 A7.0,2.8 0 0 0 137.3,385.5 L137.3,383" fill="#fff" stroke="#1a1a1a" stroke-width="0.9"/>
<ellipse cx="130.3" cy="383" rx="7.0" ry="2.8" fill="#fff" stroke="#1a1a1a" stroke-width="0.9"/>
<ellipse cx="130.3" cy="383.3" rx="3.85" ry="1.54" fill="#8a8a8a" stroke="#1a1a1a" stroke-width="0.8"/>
<ellipse cx="130.3" cy="383.3" rx="2.10" ry="0.84" fill="#444" stroke="none"/>
<path d="M109.0,390.7 L109.0,393.2 A6.7,2.7 0 0 0 122.4,393.2 L122.4,390.7" fill="#fff" stroke="#1a1a1a" stroke-width="0.9"/>
<ellipse cx="115.7" cy="390.7" rx="6.7" ry="2.7" fill="#fff" stroke="#1a1a1a" stroke-width="0.9"/>
<ellipse cx="115.7" cy="391.0" rx="3.69" ry="1.49" fill="#8a8a8a" stroke="#1a1a1a" stroke-width="0.8"/>
<ellipse cx="115.7" cy="391.0" rx="2.01" ry="0.81" fill="#444" stroke="none"/>
<path d="M119.6,415.5 L119.6,418.5 A6.5,2.5 0 0 0 132.6,418.5 L132.6,415.5" fill="#fff" stroke="#1a1a1a" stroke-width="1.0"/>
<ellipse cx="126.1" cy="415.5" rx="6.5" ry="2.5" fill="#fff" stroke="#1a1a1a" stroke-width="1.0"/>
<path d="M123.8,400.1 L122.19999999999999,415.5 A3.9,1.5 0 0 0 130.0,415.5 L131.6,400.1" fill="#fff" stroke="#1a1a1a" stroke-width="1.0"/>
<ellipse cx="127.7" cy="400.1" rx="3.9" ry="1.5" fill="#fff" stroke="#1a1a1a" stroke-width="1.0"/>
<path d="M105.6,424 L105.6,427 A6.5,2.5 0 0 0 118.6,427 L118.6,424" fill="#fff" stroke="#1a1a1a" stroke-width="1.0"/>
<ellipse cx="112.1" cy="424" rx="6.5" ry="2.5" fill="#fff" stroke="#1a1a1a" stroke-width="1.0"/>
<path d="M109.8,407.9 L108.19999999999999,424 A3.9,1.5 0 0 0 116.0,424 L117.60000000000001,407.9" fill="#fff" stroke="#1a1a1a" stroke-width="1.0"/>
<ellipse cx="113.7" cy="407.9" rx="3.9" ry="1.5" fill="#fff" stroke="#1a1a1a" stroke-width="1.0"/>
<line x1="123.1" y1="322" x2="119.4" y2="356" stroke="#333" stroke-width="0.9" stroke-dasharray="4 2.2"/>
<line x1="137.5" y1="318" x2="133.75" y2="349" stroke="#333" stroke-width="0.9" stroke-dasharray="4 2.2"/>
<line x1="121.6" y1="234" x2="119.6" y2="261" stroke="#333" stroke-width="0.9" stroke-dasharray="4 2.2"/>
<line x1="152.4" y1="240" x2="149.5" y2="258" stroke="#333" stroke-width="0.9" stroke-dasharray="4 2.2"/>
<line x1="24.4" y1="273.1" x2="54" y2="280" stroke="#333" stroke-width="0.9" stroke-dasharray="4 2.2"/>
<line x1="77" y1="285" x2="103" y2="291.7" stroke="#333" stroke-width="0.9" stroke-dasharray="4 2.2"/>
<line x1="97.2" y1="262.4" x2="106.8" y2="264.8" stroke="#333" stroke-width="0.9" stroke-dasharray="4 2.2"/>
<line x1="226.2" y1="86.56" x2="177.6" y2="85.6" stroke="#1a1a1a" stroke-width="0.9"/>
<path d="M177.6,85.6 L183.62,84.47 A1.25,1.25 0 0 1 183.57,86.97 Z" fill="#1a1a1a" stroke="#1a1a1a" stroke-width="0.3"/>
<line x1="226.37" y1="126.22" x2="171.5" y2="135.3" stroke="#1a1a1a" stroke-width="0.9"/>
<path d="M171.5,135.3 L177.22,133.09 A1.25,1.25 0 0 1 177.62,135.55 Z" fill="#1a1a1a" stroke="#1a1a1a" stroke-width="0.3"/>
<line x1="226.22" y1="155.12" x2="169.6" y2="152" stroke="#1a1a1a" stroke-width="0.9"/>
<path d="M169.6,152 L175.66,151.08 A1.25,1.25 0 0 1 175.52,153.58 Z" fill="#1a1a1a" stroke="#1a1a1a" stroke-width="0.3"/>
<line x1="227.04" y1="186.71" x2="168.9" y2="164.1" stroke="#1a1a1a" stroke-width="0.9"/>
<path d="M168.9,164.1 L174.95,165.11 A1.25,1.25 0 0 1 174.04,167.44 Z" fill="#1a1a1a" stroke="#1a1a1a" stroke-width="0.3"/>
<line x1="228.4" y1="218.35" x2="166.4" y2="175.5" stroke="#1a1a1a" stroke-width="0.9"/>
<path d="M166.4,175.5 L172.05,177.88 A1.25,1.25 0 0 1 170.63,179.94 Z" fill="#1a1a1a" stroke="#1a1a1a" stroke-width="0.3"/>
<line x1="229.6" y1="255.37" x2="165.1" y2="194.3" stroke="#1a1a1a" stroke-width="0.9"/>
<path d="M165.1,194.3 L170.32,197.52 A1.25,1.25 0 0 1 168.60,199.33 Z" fill="#1a1a1a" stroke="#1a1a1a" stroke-width="0.3"/>
<line x1="227.84" y1="292.84" x2="167.5" y2="258.3" stroke="#1a1a1a" stroke-width="0.9"/>
<path d="M167.5,258.3 L173.33,260.20 A1.25,1.25 0 0 1 172.09,262.37 Z" fill="#1a1a1a" stroke="#1a1a1a" stroke-width="0.3"/>
<line x1="41.99" y1="156.81" x2="76.1" y2="158.2" stroke="#1a1a1a" stroke-width="0.9"/>
<path d="M76.1,158.2 L70.05,159.20 A1.25,1.25 0 0 1 70.16,156.71 Z" fill="#1a1a1a" stroke="#1a1a1a" stroke-width="0.3"/>
<line x1="27.57" y1="298.58" x2="14.6" y2="278.5" stroke="#1a1a1a" stroke-width="0.9"/>
<path d="M14.6,278.5 L18.91,282.86 A1.25,1.25 0 0 1 16.81,284.22 Z" fill="#1a1a1a" stroke="#1a1a1a" stroke-width="0.3"/>
<line x1="37.61" y1="297.05" x2="48" y2="259.5" stroke="#1a1a1a" stroke-width="0.9"/>
<path d="M48,259.5 L47.60,265.62 A1.25,1.25 0 0 1 45.20,264.95 Z" fill="#1a1a1a" stroke="#1a1a1a" stroke-width="0.3"/>
<line x1="39.12" y1="343.97" x2="62.5" y2="288.5" stroke="#1a1a1a" stroke-width="0.9"/>
<path d="M62.5,288.5 L61.32,294.51 A1.25,1.25 0 0 1 59.02,293.54 Z" fill="#1a1a1a" stroke="#1a1a1a" stroke-width="0.3"/>
<line x1="67.99" y1="389.46" x2="108.5" y2="391.3" stroke="#1a1a1a" stroke-width="0.9"/>
<path d="M108.5,391.3 L102.45,392.28 A1.25,1.25 0 0 1 102.56,389.78 Z" fill="#1a1a1a" stroke="#1a1a1a" stroke-width="0.3"/>
<line x1="68.0" y1="423.05" x2="106.4" y2="422.9" stroke="#1a1a1a" stroke-width="0.9"/>
<path d="M106.4,422.9 L100.40,424.17 A1.25,1.25 0 0 1 100.40,421.67 Z" fill="#1a1a1a" stroke="#1a1a1a" stroke-width="0.3"/>
<line x1="464.61" y1="334.29" x2="509.2" y2="451.4" stroke="#1a1a1a" stroke-width="0.9"/>
<path d="M509.2,451.4 L505.90,446.24 A1.25,1.25 0 0 1 508.23,445.35 Z" fill="#1a1a1a" stroke="#1a1a1a" stroke-width="0.3"/>
<line x1="532.62" y1="333.06" x2="566.5" y2="384.5" stroke="#1a1a1a" stroke-width="0.9"/>
<path d="M566.5,384.5 L562.16,380.18 A1.25,1.25 0 0 1 564.24,378.80 Z" fill="#1a1a1a" stroke="#1a1a1a" stroke-width="0.3"/>
<line x1="531.8" y1="333.55" x2="570.5" y2="403.5" stroke="#1a1a1a" stroke-width="0.9"/>
<path d="M570.5,403.5 L566.50,398.86 A1.25,1.25 0 0 1 568.69,397.64 Z" fill="#1a1a1a" stroke="#1a1a1a" stroke-width="0.3"/>
<line x1="610.96" y1="332.53" x2="640.2" y2="370.5" stroke="#1a1a1a" stroke-width="0.9"/>
<path d="M640.2,370.5 L635.55,366.51 A1.25,1.25 0 0 1 637.53,364.98 Z" fill="#1a1a1a" stroke="#1a1a1a" stroke-width="0.3"/>
<line x1="772.79" y1="325.07" x2="715.9" y2="335.2" stroke="#1a1a1a" stroke-width="0.9"/>
<path d="M715.9,335.2 L721.59,332.92 A1.25,1.25 0 0 1 722.03,335.38 Z" fill="#1a1a1a" stroke="#1a1a1a" stroke-width="0.3"/>
<line x1="772.6" y1="358.63" x2="717.3" y2="357.4" stroke="#1a1a1a" stroke-width="0.9"/>
<path d="M717.3,357.4 L723.33,356.28 A1.25,1.25 0 0 1 723.27,358.78 Z" fill="#1a1a1a" stroke="#1a1a1a" stroke-width="0.3"/>
<line x1="772.91" y1="392.07" x2="715.1" y2="379" stroke="#1a1a1a" stroke-width="0.9"/>
<path d="M715.1,379 L721.23,379.10 A1.25,1.25 0 0 1 720.68,381.54 Z" fill="#1a1a1a" stroke="#1a1a1a" stroke-width="0.3"/>
<line x1="769.8" y1="446.26" x2="732.9" y2="439.5" stroke="#1a1a1a" stroke-width="0.9"/>
<path d="M732.9,439.5 L739.03,439.35 A1.25,1.25 0 0 1 738.58,441.81 Z" fill="#1a1a1a" stroke="#1a1a1a" stroke-width="0.3"/>
<line x1="770.4" y1="514.07" x2="672.5" y2="488.5" stroke="#1a1a1a" stroke-width="0.9"/>
<path d="M672.5,488.5 L678.62,488.81 A1.25,1.25 0 0 1 677.99,491.23 Z" fill="#1a1a1a" stroke="#1a1a1a" stroke-width="0.3"/>
<line x1="766.31" y1="566.42" x2="682" y2="562.5" stroke="#1a1a1a" stroke-width="0.9"/>
<path d="M682,562.5 L688.05,561.53 A1.25,1.25 0 0 1 687.94,564.03 Z" fill="#1a1a1a" stroke="#1a1a1a" stroke-width="0.3"/>
<line x1="766.46" y1="568.99" x2="665.5" y2="585.4" stroke="#1a1a1a" stroke-width="0.9"/>
<path d="M665.5,585.4 L671.22,583.20 A1.25,1.25 0 0 1 671.62,585.67 Z" fill="#1a1a1a" stroke="#1a1a1a" stroke-width="0.3"/>
<line x1="755.14" y1="608.49" x2="684" y2="602.7" stroke="#1a1a1a" stroke-width="0.9"/>
<path d="M684,602.7 L690.08,601.94 A1.25,1.25 0 0 1 689.88,604.43 Z" fill="#1a1a1a" stroke="#1a1a1a" stroke-width="0.3"/>
</svg></body></html>
